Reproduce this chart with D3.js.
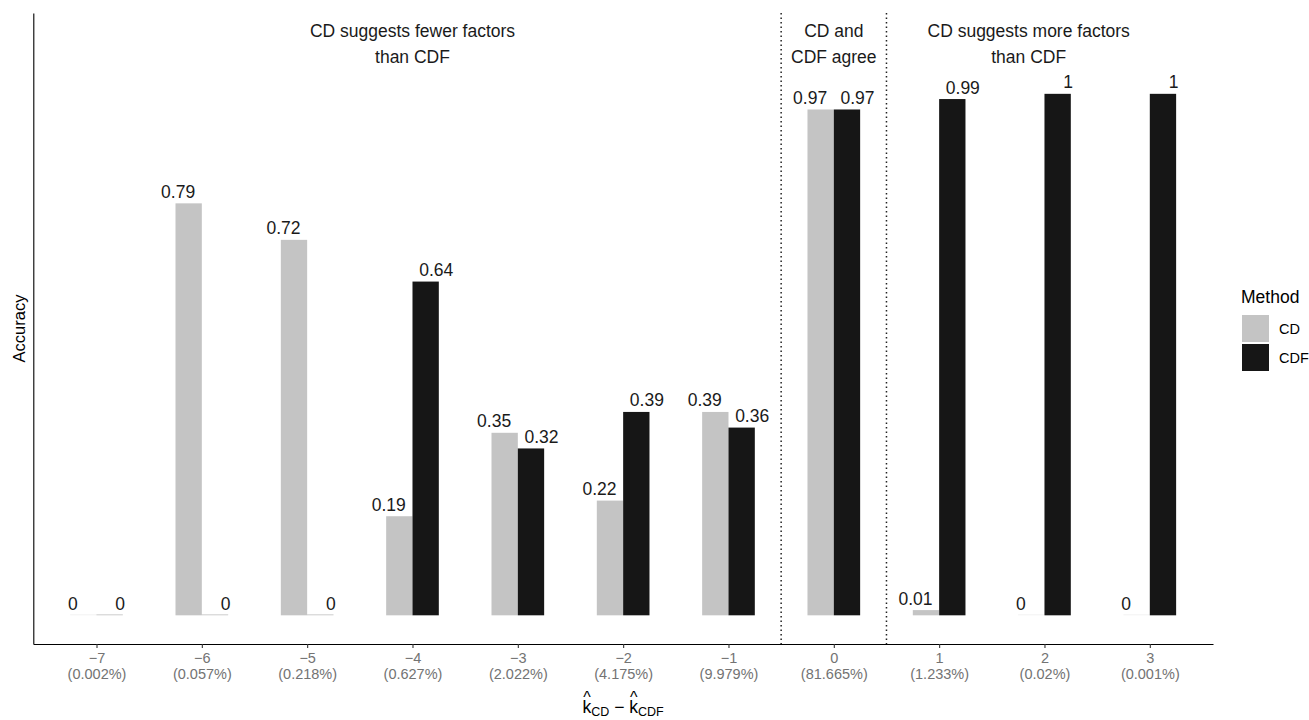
<!DOCTYPE html>
<html>
<head>
<meta charset="utf-8">
<script src="https://cdn.jsdelivr.net/npm/d3@7"></script>
<style>
  body { margin: 0; background: #fff; }
  text { font-family: "Liberation Sans", Arial, Helvetica, sans-serif; }
</style>
</head>
<body>
<svg id="chart" width="1309" height="720"></svg>
<script>
// difference in suggested number of factors (CD minus CDF) and share of cases
const categories = ["−7", "−6", "−5", "−4", "−3", "−2", "−1", "0", "1", "2", "3"];
const shares = ["(0.002%)", "(0.057%)", "(0.218%)", "(0.627%)", "(2.022%)", "(4.175%)",
                "(9.979%)", "(81.665%)", "(1.233%)", "(0.02%)", "(0.001%)"];

// accuracy per method
const seriesNames = ["CD", "CDF"];
const cdValues  = [0, 0.79, 0.72, 0.19, 0.35, 0.22, 0.39, 0.97, 0.01, 0, 0];
const cdfValues = [0, 0, 0, 0.64, 0.32, 0.39, 0.36, 0.97, 0.99, 1, 1];

// panel annotations
const annotationText = [
  ["CD suggests fewer factors", "than CDF"],
  ["CD and", "CDF agree"],
  ["CD suggests more factors", "than CDF"]
];
const annotationX = [4, 8, 9.85];
const annotationY = 1.1;
const dividerX = [7.5, 8.5];

const colors = ["#c4c4c4", "#161616"];

let svg = d3.select("#chart");

// positions are 1..n on a continuous scale, like ggplot's discrete axis
let x = d3.scaleLinear()
  .domain([0.4, categories.length + 0.6])
  .range([33.3, 1213]);

let y = d3.scaleLinear()
  .domain([-0.055, 1.155])
  .range([644, 13]);

let barW = 0.25;      // bar width in category units
let labelOff = 0.225; // text dodge offset

let data = categories.map((c, i) => ({
  pos: i + 1,
  values: [cdValues[i], cdfValues[i]]
}));

// dotted dividers
svg.selectAll(".divider")
  .data(dividerX)
  .enter().append("line")
  .attr("class", "divider")
  .attr("x1", d => x(d)).attr("x2", d => x(d))
  .attr("y1", y.range()[1]).attr("y2", y.range()[0])
  .attr("stroke", "#222")
  .attr("stroke-width", 1.5)
  .attr("stroke-dasharray", "1.5,3");

// bars
let groups = svg.selectAll(".grp")
  .data(data)
  .enter().append("g")
  .attr("class", "grp");

groups.selectAll("rect")
  .data(d => d.values.map((v, j) => ({ pos: d.pos, v: v, j: j })))
  .enter().append("rect")
  .attr("x", d => x(d.pos - barW + d.j * barW))
  .attr("width", d => x(barW) - x(0))
  .attr("y", d => d.v > 0 ? y(d.v) : y(0) - 1)
  .attr("height", d => d.v > 0 ? y(0) - y(d.v) : 1)
  .attr("fill", d => colors[d.j])
  .attr("fill-opacity", d => d.v > 0 ? 1 : 0.22);

groups.selectAll("text")
  .data(d => d.values.map((v, j) => ({ pos: d.pos, v: v, j: j })))
  .enter().append("text")
  .attr("x", d => x(d.pos + (d.j === 0 ? -labelOff : labelOff)))
  .attr("y", d => y(d.v) - 5.5)
  .attr("text-anchor", "middle")
  .attr("font-size", "17.5px")
  .attr("fill", "#1a1a1a")
  .text(d => String(d.v));

// annotations
annotationText.forEach((lines, k) => {
  let t = svg.append("text")
    .attr("text-anchor", "middle")
    .attr("font-size", "17.5px")
    .attr("fill", "#1a1a1a");
  lines.forEach((s, li) => {
    t.append("tspan")
      .attr("x", x(annotationX[k]))
      .attr("y", y(annotationY) - 5 + li * 26)
      .text(s);
  });
});

// x axis
let xAxis = d3.axisBottom(x)
  .tickValues(d3.range(1, categories.length + 1))
  .tickSize(4)
  .tickSizeOuter(0)
  .tickFormat("");

let gx = svg.append("g")
  .attr("transform", `translate(0,${y.range()[0]})`)
  .call(xAxis);
gx.select(".domain").attr("stroke", "#000").attr("stroke-width", 1.1);
gx.selectAll(".tick line").attr("stroke", "#333").attr("stroke-width", 1.1);
gx.selectAll(".tick text").remove();
gx.selectAll(".tick").each(function (d) {
  let t = d3.select(this).append("text")
    .attr("text-anchor", "middle")
    .attr("font-size", "14.5px")
    .attr("fill", "#737373");
  t.append("tspan").attr("x", 0).attr("y", 19).text(categories[d - 1]);
  t.append("tspan").attr("x", 0).attr("y", 35).text(shares[d - 1]);
});

// y axis (no ticks)
let gy = svg.append("g")
  .attr("transform", `translate(${x.range()[0]},0)`)
  .call(d3.axisLeft(y).tickValues([]).tickSizeOuter(0));
gy.select(".domain").attr("stroke", "#000").attr("stroke-width", 1.1);

svg.append("text")
  .attr("transform", `translate(25,${(y.range()[0] + y.range()[1]) / 2}) rotate(-90)`)
  .attr("text-anchor", "middle")
  .attr("font-size", "16.5px")
  .attr("fill", "#000")
  .text("Accuracy");

// x title: k-hat_CD − k-hat_CDF
let xt = svg.append("text")
  .attr("x", (x.range()[0] + x.range()[1]) / 2)
  .attr("y", 713)
  .attr("text-anchor", "middle")
  .attr("font-size", "17.5px")
  .attr("fill", "#000");
xt.append("tspan").text("k");
xt.append("tspan").attr("font-size", "12.5px").attr("dy", 3).text("CD");
xt.append("tspan").attr("dy", -3).text(" − ");
xt.append("tspan").text("k");
xt.append("tspan").attr("font-size", "12.5px").attr("dy", 3).text("CDF");

let node = xt.node();
[0, 6].forEach(ci => {
  let a = node.getStartPositionOfChar(ci).x;
  let b = node.getEndPositionOfChar(ci).x;
  svg.append("text")
    .attr("x", (a + b) / 2)
    .attr("y", 702.5)
    .attr("text-anchor", "middle")
    .attr("font-size", "16px")
    .attr("fill", "#000")
    .text("^");
});

// legend
let legend = svg.append("g").attr("transform", "translate(1241,0)");
legend.append("text")
  .attr("x", 0).attr("y", 303)
  .attr("font-size", "17.5px")
  .attr("fill", "#000")
  .text("Method");
seriesNames.forEach((s, i) => {
  legend.append("rect")
    .attr("x", 1).attr("y", 315 + i * 29)
    .attr("width", 27).attr("height", 27)
    .attr("fill", colors[i]);
  legend.append("text")
    .attr("x", 38).attr("y", 334 + i * 29)
    .attr("font-size", "14.5px")
    .attr("fill", "#000")
    .text(s);
});
</script>
</body>
</html>
